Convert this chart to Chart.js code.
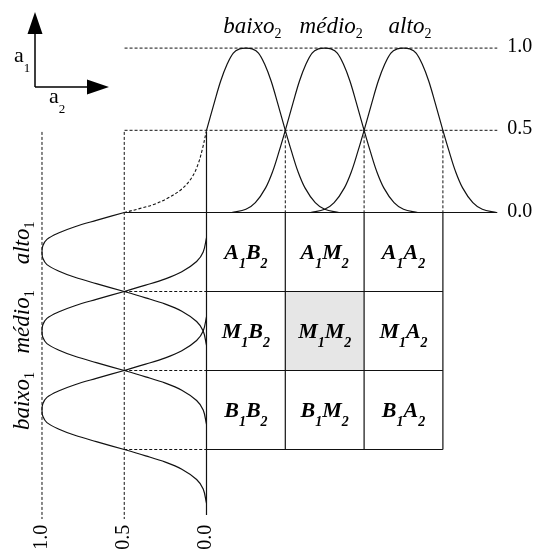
<!DOCTYPE html>
<html lang="pt">
<head>
<meta charset="UTF-8">
<title>Partição fuzzy a1 x a2</title>
<script src="https://cdn.jsdelivr.net/npm/chart.js"></script>
<style>
  html, body { margin: 0; padding: 0; background: #fff; }
  #wrap { position: relative; width: 535px; height: 553px; }
</style>
</head>
<body>
<div id="wrap"><canvas id="fuzzyChart"></canvas></div>
<script>
// conjuntos fuzzy, na mesma ordem nos dois eixos
const setNames = ['baixo', 'médio', 'alto'];
const setLetters = ['B', 'M', 'A'];
const setCenters = [0.5, 1.5, 2.5];
const cellEdges = [0, 1, 2, 3];
const highlightCell = [1, 1]; // [linha a1, coluna a2] -> M1M2

// forma do sino: deslocamento a partir do centro e pertinência
const bellOffsets = [-1.18, -1.0, -0.88, -0.75, -0.66, -0.58, -0.5, -0.4, -0.32, -0.24, -0.16, -0.08, 0,
                     0.08, 0.16, 0.24, 0.32, 0.4, 0.5, 0.58, 0.66, 0.75, 0.88, 1.0, 1.18];
const bellValues  = [0, 0.02, 0.06, 0.15, 0.25, 0.37, 0.5, 0.67, 0.8, 0.9, 0.97, 0.995, 1,
                     0.995, 0.97, 0.9, 0.8, 0.67, 0.5, 0.37, 0.25, 0.15, 0.06, 0.02, 0];

// cauda pontilhada do canto (a2, pertinência de a2)
const tailA2 = [0, -0.05, -0.11, -0.19, -0.32, -0.49, -0.66, -0.84, -1.04];
const tailMu = [0.5, 0.39, 0.29, 0.21, 0.14, 0.088, 0.05, 0.025, 0];

// marcas de pertinência
const muTicks = [0, 0.5, 1.0];
const muLabels = ['0.0', '0.5', '1.0'];

const TOP = ['x', 'y'];     // a2 x pertinência de a2
const LEFT = ['x1', 'y1'];  // pertinência de a1 x a1
const GRID = ['x', 'y1'];   // a2 x a1
const cornerA2 = -1.04, lineEndA2 = 3.69;
const colTopA1 = 4.02, colBottomA1 = -0.88, axisBottomA1 = -0.83;

const datasets = [];
function addLine(points, axes, dashed, tension, width) {
    datasets.push({
        data: points,
        xAxisID: axes[0],
        yAxisID: axes[1],
        showLine: true,
        pointRadius: 0,
        borderColor: '#111',
        borderWidth: width || 1,
        borderDash: dashed ? [3, 2] : [],
        tension: tension || 0,
        fill: false
    });
}

// curvas de a2 (em cima)
setCenters.forEach((c, i) => {
    const pts = [];
    bellOffsets.forEach((d, k) => {
        if (i === 0 && d < -0.5) return; // baixo2 segue pontilhado
        pts.push({ x: c + d, y: bellValues[k] });
    });
    addLine(pts, TOP, false, 0.35, 1.2);
});

// curvas de a1 (à esquerda, deitadas)
setCenters.forEach((c, i) => {
    const pts = [];
    bellOffsets.forEach((d, k) => {
        if (i === 2 && d > 0.5) return; // alto1 segue pontilhado
        pts.push({ x: bellValues[k], y: c + d });
    });
    addLine(pts, LEFT, false, 0.35, 1.2);
});

addLine(tailA2.map((a, k) => ({ x: a, y: tailMu[k] })), TOP, true, 0.35, 1.1);

// linhas de referência de cima
muTicks.forEach(m => {
    addLine([{ x: cornerA2, y: m }, { x: lineEndA2, y: m }], TOP, m > 0, 0, m > 0 ? 1 : 1.2);
});
cellEdges.slice(1).forEach(e => {
    addLine([{ x: e, y: 0.5 }, { x: e, y: 0 }], TOP, true);
});

// linhas de referência da esquerda
addLine([{ x: 1, y: colTopA1 }, { x: 1, y: colBottomA1 }], LEFT, true);
addLine([{ x: 0.5, y: colTopA1 }, { x: 0.5, y: colBottomA1 }], LEFT, true);
addLine([{ x: 0, y: colTopA1 }, { x: 0, y: axisBottomA1 }], LEFT, false, 0, 1.2);
cellEdges.slice(0, 3).forEach(e => {
    addLine([{ x: 0.5, y: e }, { x: 0, y: e }], LEFT, true);
});

// grade das regras
cellEdges.slice(0, 3).forEach(e => {
    addLine([{ x: 0, y: e }, { x: 3, y: e }], GRID, false, 0, 1.2);
});
cellEdges.slice(1).forEach(e => {
    addLine([{ x: e, y: 0 }, { x: e, y: 3 }], GRID, false, 0, 1.2);
});

const SERIF = '"Liberation Serif", "Times New Roman", serif';

function drawParts(ctx, parts, x, y, centerOn) {
    // parts: [texto, fonte, deslocamento vertical]
    let w = 0;
    const widths = parts.map(p => { ctx.font = p[1]; const m = ctx.measureText(p[0]).width; w += m; return m; });
    let cx = x;
    if (centerOn === 'all') cx = x - w / 2;
    if (centerOn === 'first') cx = x - widths[0] / 2;
    parts.forEach((p, i) => {
        ctx.font = p[1];
        ctx.fillText(p[0], cx, y + p[2]);
        cx += widths[i];
    });
}

const cellShade = {
    id: 'cellShade',
    beforeDatasetsDraw(chart) {
        const { ctx, scales } = chart;
        const r = highlightCell[0], c = highlightCell[1];
        const x0 = scales.x.getPixelForValue(cellEdges[c]);
        const x1 = scales.x.getPixelForValue(cellEdges[c + 1]);
        const y0 = scales.y1.getPixelForValue(cellEdges[r + 1]);
        const y1 = scales.y1.getPixelForValue(cellEdges[r]);
        ctx.save();
        ctx.fillStyle = '#e6e6e6';
        ctx.fillRect(x0, y0, x1 - x0, y1 - y0);
        ctx.restore();
    }
};

const labels = {
    id: 'labels',
    afterDatasetsDraw(chart) {
        const { ctx, scales } = chart;
        ctx.save();
        ctx.fillStyle = '#000';
        ctx.textAlign = 'left';
        ctx.textBaseline = 'alphabetic';

        // nomes de a2
        const topY = scales.y.getPixelForValue(1) - 15;
        setNames.forEach((n, i) => {
            const px = scales.x.getPixelForValue(setCenters[i]) + 3;
            drawParts(ctx, [[n, 'italic 23px ' + SERIF, 0], ['2', '14px ' + SERIF, 5]], px, topY, 'first');
        });

        // marcas à direita
        const rx = scales.x.getPixelForValue(lineEndA2) + 10;
        muTicks.forEach((m, i) => {
            ctx.font = '20px ' + SERIF;
            ctx.fillText(muLabels[i], rx, scales.y.getPixelForValue(m) + 4);
        });

        // marcas embaixo (giradas)
        const by = scales.y1.getPixelForValue(-1.11);
        muTicks.forEach((m, i) => {
            ctx.save();
            ctx.translate(scales.x1.getPixelForValue(m) + 5, by);
            ctx.rotate(-Math.PI / 2);
            ctx.font = '20px ' + SERIF;
            ctx.textAlign = 'center';
            ctx.fillText(muLabels[i], 0, 0);
            ctx.restore();
        });

        // nomes de a1 (girados)
        const lx = scales.x1.getPixelForValue(1.076);
        setNames.forEach((n, i) => {
            ctx.save();
            ctx.translate(lx, scales.y1.getPixelForValue(setCenters[i] + 0.07));
            ctx.rotate(-Math.PI / 2);
            drawParts(ctx, [[n, 'italic 23px ' + SERIF, 0], ['1', '14px ' + SERIF, 5]], 0, 0, 'first');
            ctx.restore();
        });

        // rótulos das células
        const big = 'italic bold 22px ' + SERIF, small = 'italic bold 14px ' + SERIF;
        setCenters.forEach((r, ri) => {
            setCenters.forEach((c, ci) => {
                const px = scales.x.getPixelForValue(c);
                const py = scales.y1.getPixelForValue(r) + 7;
                drawParts(ctx, [[setLetters[ri], big, 0], ['1', small, 9],
                                [setLetters[ci], big, 0], ['2', small, 9]], px, py, 'all');
            });
        });

        // eixos a1 / a2 no canto
        const ox = 35, oy = 87;
        ctx.strokeStyle = '#000';
        ctx.lineWidth = 1.5;
        ctx.beginPath();
        ctx.moveTo(ox, oy); ctx.lineTo(ox, 30);
        ctx.moveTo(ox, oy); ctx.lineTo(90, oy);
        ctx.stroke();
        ctx.beginPath();
        ctx.moveTo(ox, 12); ctx.lineTo(ox - 7.5, 34); ctx.lineTo(ox + 7.5, 34); ctx.closePath();
        ctx.moveTo(109, oy); ctx.lineTo(87, oy - 7.5); ctx.lineTo(87, oy + 7.5); ctx.closePath();
        ctx.fill();
        drawParts(ctx, [['a', '22px ' + SERIF, 0], ['1', '13px ' + SERIF, 10]], 14, 62, null);
        drawParts(ctx, [['a', '22px ' + SERIF, 0], ['2', '13px ' + SERIF, 10]], 49, 103, null);

        ctx.restore();
    }
};

new Chart(document.getElementById('fuzzyChart'), {
    type: 'scatter',
    data: { datasets: datasets },
    options: {
        responsive: true,
        maintainAspectRatio: false,
        animation: false,
        layout: { padding: 0 },
        plugins: { legend: { display: false }, tooltip: { enabled: false } },
        scales: {
            x:  { type: 'linear', display: false, min: -2.6206, max: 4.1688 },
            y:  { type: 'linear', display: false, min: -2.0712, max: 1.2926 },
            x1: { type: 'linear', display: false, reverse: true, min: -1.9970, max: 1.2553 },
            y1: { type: 'linear', display: false, min: -1.3101, max: 5.6899 }
        }
    },
    plugins: [cellShade, labels]
});
</script>
</body>
</html>
